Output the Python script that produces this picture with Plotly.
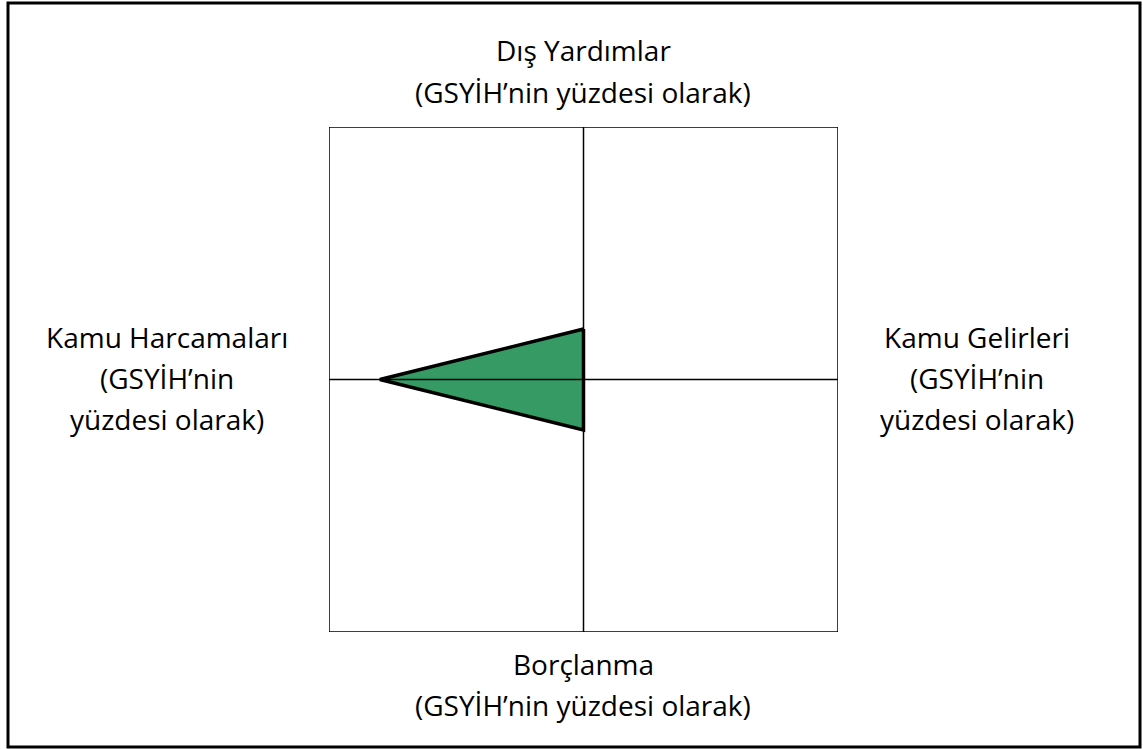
import plotly.graph_objects as go

W, H = 1143, 749

# axis labels (one entry per line)
axis_names = ["Dış Yardımlar", "Kamu Gelirleri", "Borçlanma", "Kamu Harcamaları"]
unit = "(GSYİH’nin yüzdesi olarak)"

# values on each axis (scale 0-10)
aid = 2
revenue = 0
borrowing = 2
spending = 8
axis_max = 10

fig = go.Figure()

# polygon: top (aid), right (revenue), bottom (borrowing), left (spending)
xs = [0, revenue, 0, -spending, 0]
ys = [aid, 0, -borrowing, 0, aid]
fig.add_trace(go.Scatter(
    x=xs, y=ys, mode="lines", fill="toself",
    fillcolor="#359A64", line=dict(color="black", width=3.5),
    hoverinfo="skip", showlegend=False
))

# quadrant square and cross lines
fig.add_shape(type="rect", x0=-axis_max, x1=axis_max, y0=-axis_max, y1=axis_max,
              xref="x", yref="y", line=dict(color="black", width=1.5), layer="above")
fig.add_shape(type="line", x0=-axis_max, x1=axis_max, y0=0, y1=0,
              xref="x", yref="y", line=dict(color="black", width=1.5), layer="above")
fig.add_shape(type="line", x0=0, x1=0, y0=-axis_max, y1=axis_max,
              xref="x", yref="y", line=dict(color="black", width=1.5), layer="above")

# outer frame
fig.add_shape(type="rect", x0=8/W, x1=1140/W, y0=1-747/H, y1=1-3/H,
              xref="paper", yref="paper", line=dict(color="black", width=3))

font = dict(family="Open Sans, DejaVu Sans, sans-serif", size=28, color="black")


def label(lines, cx, cys):
    for txt, cy in zip(lines, cys):
        fig.add_annotation(x=cx/W, y=1-cy/H, xref="paper", yref="paper",
                           text=txt, showarrow=False, font=font,
                           xanchor="center", yanchor="middle")


label([axis_names[0], unit], 583, [50, 92])
label([axis_names[2], unit], 583, [664, 705])
label([axis_names[3], "(GSYİH’nin", "yüzdesi olarak)"], 167, [337, 378, 419])
label([axis_names[1], "(GSYİH’nin", "yüzdesi olarak)"], 977, [337, 378, 419])

fig.update_xaxes(range=[-axis_max, axis_max], domain=[329/W, 838/W],
                 visible=False, fixedrange=True)
fig.update_yaxes(range=[-axis_max, axis_max], domain=[1-632/H, 1-127/H],
                 visible=False, fixedrange=True)

fig.update_layout(
    width=W, height=H,
    margin=dict(l=0, r=0, t=0, b=0),
    paper_bgcolor="white", plot_bgcolor="white",
    showlegend=False
)

fig.write_html("out.html", config={"displayModeBar": False},
               post_script="document.body.style.margin='0';")
